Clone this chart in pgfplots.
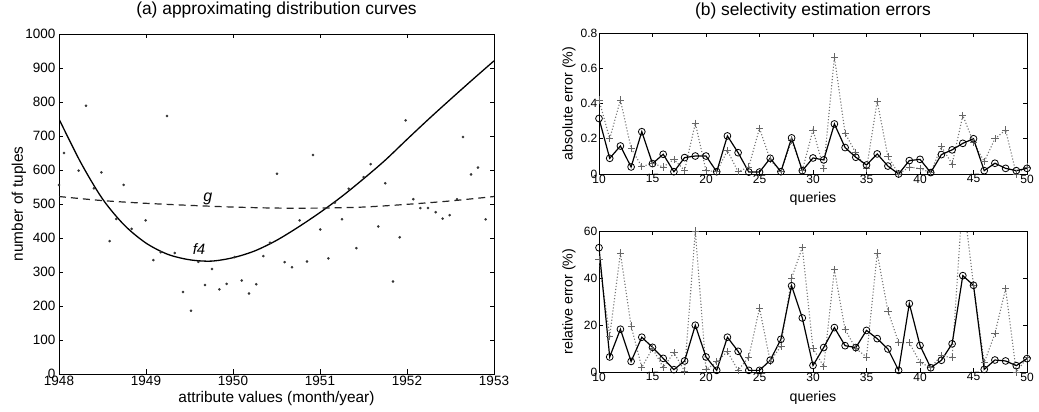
\documentclass[border=0pt]{standalone}
\usepackage{fontspec}
\setmainfont{Liberation Sans}
\usepackage{pgfplots}
\pgfplotsset{compat=1.18}

\newcommand{\ticksize}{\fontsize{13.5}{15}\selectfont}
\newcommand{\smallticksize}{\fontsize{12}{13}\selectfont}
\newcommand{\labsize}{\fontsize{15.4}{17}\selectfont}
\newcommand{\smalllabsize}{\fontsize{14.2}{16}\selectfont}
\newcommand{\titsize}{\fontsize{17.4}{20}\selectfont}

\pgfplotsset{
  matbox/.style={
    scale only axis,
    axis line style={line width=0.9pt, black},
    tick align=inside,
    major tick length=4.5pt,
    tick style={line width=0.7pt, black},
    xtick pos=both, ytick pos=both,
    /pgf/number format/assume math mode=true,
    /pgf/number format/1000 sep={},
    title style={at={(0.5,1)}, anchor=base, font=\titsize},
  },
  errline/.style={black, line width=1.2pt, mark=o, mark size=3.4pt,
    mark options={solid, line width=0.8pt, fill=white}},
  oldline/.style={black!55, dotted, line width=1.1pt, mark=+, mark size=3.6pt,
    mark options={solid, line width=0.8pt, black!60}},
}

% observed tuple counts per month
\pgfplotstableread{
x        y
1948.000 556
1948.057 650
1948.226 598
1948.310 789
1948.402 546
1948.487 593
1948.582 391
1948.659 456
1948.743 556
1948.835 427
1948.996 452
1949.084 335
1949.169 358
1949.241 759
1949.330 356
1949.425 241
1949.517 186
1949.602 330
1949.678 262
1949.759 309
1949.843 249
1949.927 265
1950.019 344
1950.100 275
1950.184 237
1950.268 264
1950.349 347
1950.425 386
1950.506 589
1950.594 329
1950.678 314
1950.766 452
1950.851 331
1950.920 644
1951.004 425
1951.096 340
1951.172 504
1951.253 455
1951.330 545
1951.418 370
1951.502 579
1951.582 617
1951.670 434
1951.751 561
1951.839 272
1951.916 402
1951.985 746
1952.073 514
1952.153 488
1952.241 488
1952.330 476
1952.410 457
1952.490 467
1952.575 514
1952.644 697
1952.736 587
1952.816 607
1952.904 455
}\tuples

% fitted curve f4
\pgfplotstableread{
x       y
1948.00 750
1948.25 622
1948.50 515
1948.75 438
1949.00 385
1949.25 352
1949.50 336
1949.75 332
1950.00 342
1950.25 362
1950.50 393
1950.75 432
1951.00 475
1951.25 522
1951.50 574
1951.75 629
1952.00 690
1952.25 750
1952.50 808
1952.75 865
1953.00 921
}\curvef

% fitted curve g
\pgfplotstableread{
x       y
1948.00 522
1948.50 510
1949.00 502
1949.50 496
1950.00 491
1950.50 488
1951.00 488
1951.50 491
1952.00 499
1952.50 509
1953.00 522
}\curveg

% absolute and relative errors per query
\pgfplotstableread{
q  absnew absold relnew relold
10 0.315 0.42  52.9 48
11 0.089 0.20   6.4 15.3
12 0.159 0.42  18.2 50.6
13 0.040 0.146  4.5 19.6
14 0.240 0.042 14.8  2.0
15 0.059 0.06  10.5 10.0
16 0.112 0.04   5.8  2.0
17 0.013 0.083  1.0  8.2
18 0.093 0.02   4.7  0.4
19 0.102 0.288 19.9 60.0
20 0.102 0.02   6.4  1.0
21 0.013 0.013  0.7  4.3
22 0.216 0.133 14.8  8.7
23 0.121 0.013  8.8  0.7
24 0.011 0.04   0.7  6.4
25 0.011 0.26   0.7 27.2
26 0.089 0.08   5.0  4.5
27 0.013 0.013 13.9 11.0
28 0.205 0.19  36.7 40.0
29 0.019 0.02  23.0 53.0
30 0.091 0.25   2.8 10.0
31 0.080 0.03  10.4  2.4
32 0.284 0.664 18.9 43.5
33 0.150 0.231 11.2 18.0
34 0.095 0.12  10.4 10.0
35 0.051 0.03  17.7  6.4
36 0.114 0.413 14.2 50.6
37 0.045 0.10   9.8 26.0
38 0.000 0.00   0.7 12.5
39 0.076 0.04  29.1 12.5
40 0.083 0.03  11.3  4.0
41 0.008 0.008  1.8  2.0
42 0.110 0.155  5.0  7.0
43 0.137 0.057 12.0  6.0
44 0.174 0.332 41.0 75.0
45 0.200 0.18  36.9 37.0
46 0.019 0.07   1.1  4.0
47 0.061 0.20   5.1 16.3
48 0.032 0.25   4.7 35.5
49 0.019 0.00   2.7  0.0
50 0.032 0.04   5.7  6.0
}\errors

\begin{document}
\begin{tikzpicture}[x=1pt,y=1pt]
\useasboundingbox (0,0) rectangle (1039,412);

% (a) distribution curves
\begin{axis}[matbox,
  at={(59pt,38pt)}, anchor=south west,
  width=435pt, height=340pt,
  xmin=1948, xmax=1953, ymin=0, ymax=1000,
  xtick={1948,1949,1950,1951,1952,1953},
  ytick={0,100,200,300,400,500,600,700,800,900,1000},
  xticklabel style={font=\ticksize, inner sep=1.5pt},
  yticklabel style={font=\ticksize},
  title={(a) approximating distribution curves},
  title style={yshift=13pt},
  xlabel={attribute values (month/year)},
  xlabel style={at={(axis description cs:0.5,0)}, anchor=base, yshift=-29pt, font=\labsize},
  ylabel={number of tuples},
  ylabel style={at={(axis description cs:-0.092,0.5)}, anchor=center, font=\labsize},
]
\addplot[only marks, mark=*, mark size=1.1pt, black!80] table[x=x, y=y] {\tuples};
\addplot[black, line width=1.3pt, smooth] table[x=x, y=y] {\curvef};
\addplot[black!85, line width=1.2pt, dash pattern=on 7pt off 5pt, smooth] table[x=x, y=y] {\curveg};
\node[anchor=base, font=\fontsize{16}{18}\selectfont\itshape] at (axis cs:1949.71,506) {g};
\node[anchor=base, font=\fontsize{15}{17}\selectfont\itshape] at (axis cs:1949.61,350) {f4};
\end{axis}

% (b) absolute errors
\begin{axis}[matbox,
  at={(599pt,238pt)}, anchor=south west,
  width=428pt, height=141pt,
  xmin=10, xmax=50, ymin=0, ymax=0.8,
  xtick={10,15,20,25,30,35,40,45,50},
  ytick={0,0.2,0.4,0.6,0.8},
  major tick length=4pt,
  xticklabel style={font=\smallticksize, inner sep=0pt, yshift=-0.5pt},
  yticklabel style={font=\smallticksize, inner sep=1.5pt},
  title={(b) selectivity estimation errors},
  title style={yshift=12pt},
  xlabel={queries},
  xlabel style={at={(axis description cs:0.5,0)}, anchor=base, yshift=-29pt, font=\smalllabsize},
  ylabel={absolute error (\%)},
  ylabel style={at={(axis description cs:-0.070,0.5)}, anchor=center, font=\smalllabsize},
]
\addplot[oldline] table[x=q, y=absold] {\errors};
\addplot[errline] table[x=q, y=absnew] {\errors};
\end{axis}

% (b) relative errors
\begin{axis}[matbox,
  at={(599pt,40pt)}, anchor=south west,
  width=428pt, height=141pt,
  xmin=10, xmax=50, ymin=0, ymax=60,
  xtick={10,15,20,25,30,35,40,45,50},
  ytick={0,20,40,60},
  major tick length=4pt,
  xticklabel style={font=\smallticksize, inner sep=0pt, yshift=-0.5pt},
  yticklabel style={font=\smallticksize, inner sep=1.5pt},
  xlabel={queries},
  xlabel style={at={(axis description cs:0.5,0)}, anchor=base, yshift=-30pt, font=\smalllabsize},
  ylabel={relative error (\%)},
  ylabel style={at={(axis description cs:-0.070,0.5)}, anchor=center, font=\smalllabsize},
]
\addplot[oldline] table[x=q, y=relold] {\errors};
\addplot[errline] table[x=q, y=relnew] {\errors};
\end{axis}
\end{tikzpicture}
\end{document}
